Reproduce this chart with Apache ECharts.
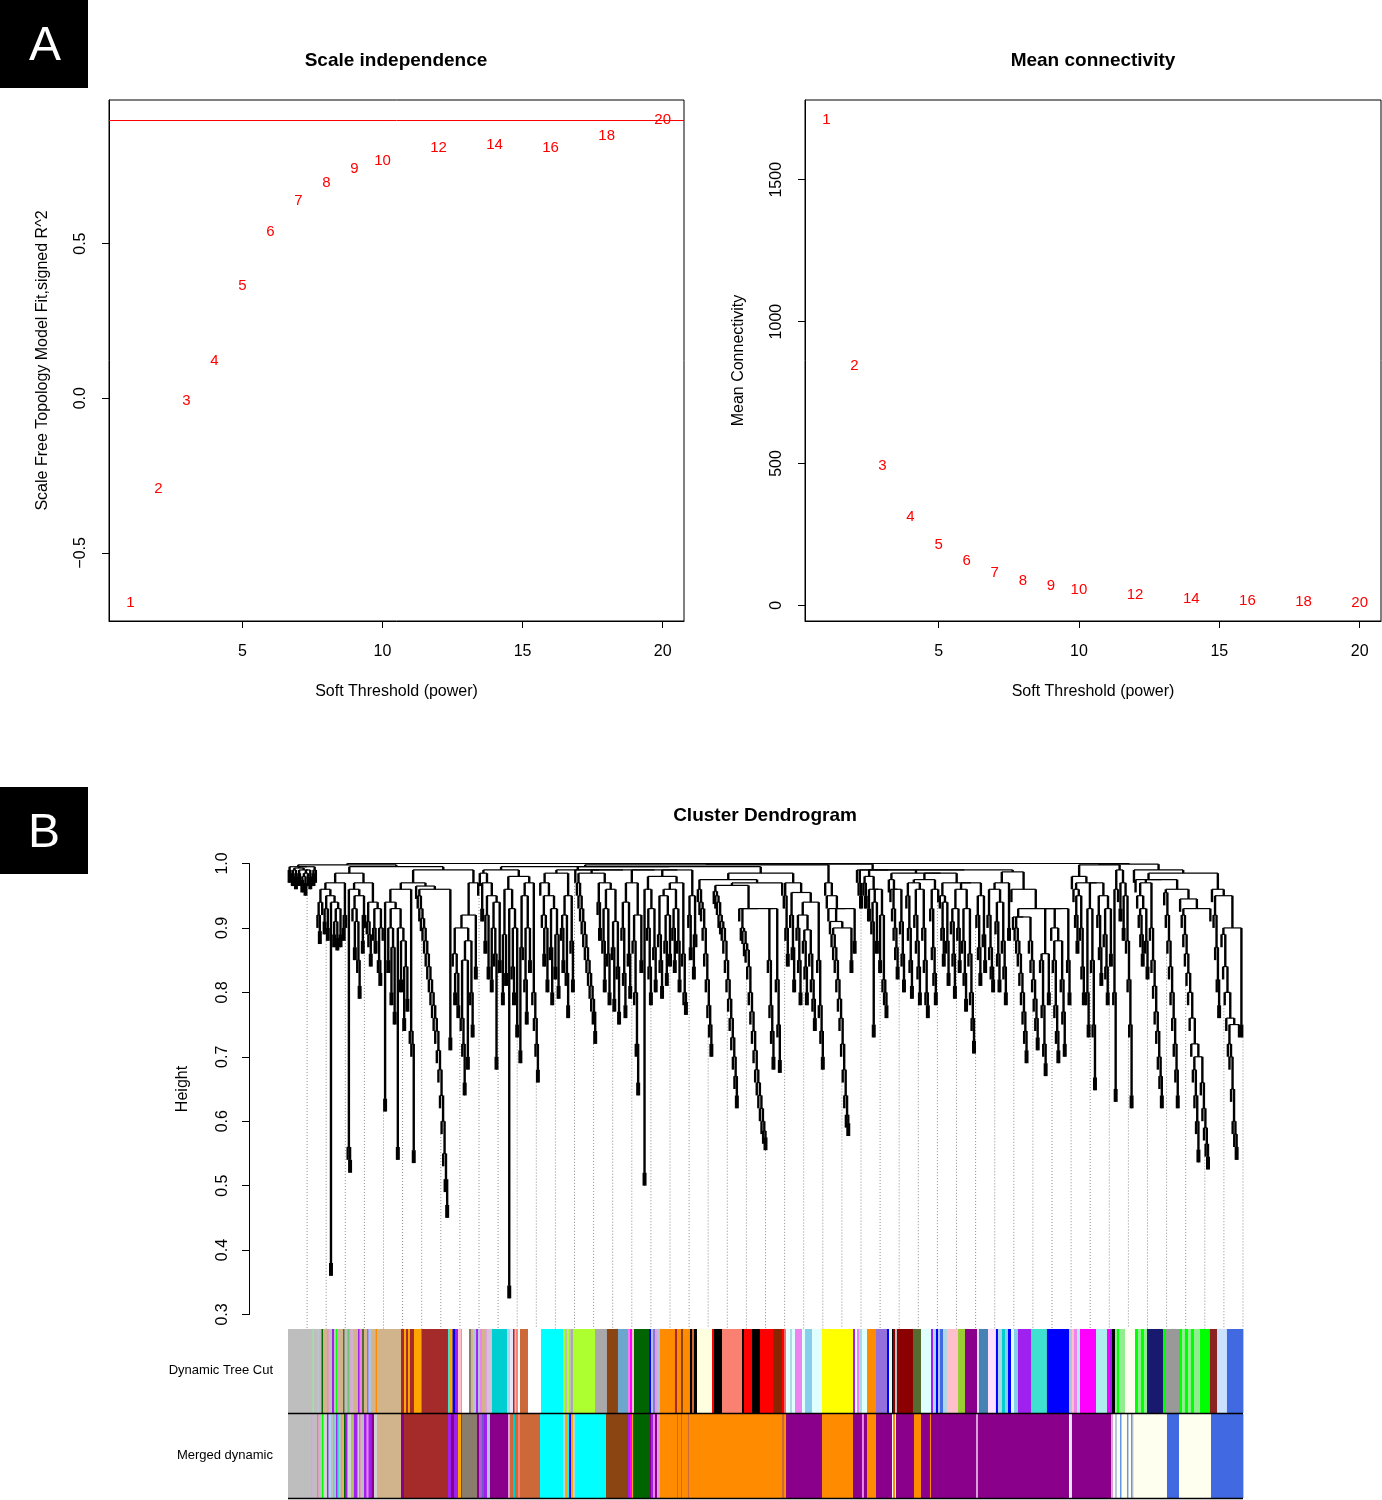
<!DOCTYPE html>
<html>
<head>
<meta charset="utf-8">
<title>Soft threshold and cluster dendrogram</title>
<script src="https://cdn.jsdelivr.net/npm/echarts@6/dist/echarts.min.js"></script>
<style>
html, body { margin: 0; padding: 0; background: #fff; }
#chart { width: 1382px; height: 1500px; }
</style>
</head>
<body>
<div id="chart"></div>
<script>
'use strict';

const FONT = '"Liberation Sans", Arial, Helvetica, sans-serif';

// ---- panel A: pick soft threshold ----
const powers = [1, 2, 3, 4, 5, 6, 7, 8, 9, 10, 12, 14, 16, 18, 20];
const scaleFitR2 = [-0.658, -0.289, -0.006, 0.124, 0.367, 0.542, 0.641, 0.699, 0.745, 0.770, 0.812, 0.822, 0.812, 0.851, 0.902];
const meanConnectivity = [1713, 846, 494, 316, 217, 159, 118, 91, 73, 58, 39, 28, 21, 16, 13];
const r2Cut = 0.9;
const powerTicks = [5, 10, 15, 20];
const fitTicks = [-0.5, 0, 0.5];
const connTicks = [0, 500, 1000, 1500];

// ---- panel B: dendrogram, merge height between neighbouring leaves (leaf order) ----
const mergeSec1 = [0.99, 0.995, 0.985, 0.99, 0.98, 0.993, 0.985, 0.99, 0.975, 0.98, 0.97, 0.985, 0.99, 0.98, 0.995, 0.985, 0.99, 0.998,
  0.92, 0.895, 0.94, 0.96, 0.91, 0.93, 0.90, 0.95, 0.38, 0.94, 0.89, 0.91, 0.885, 0.93, 0.89, 0.97, 0.90, 0.92, 0.985,
  0.56, 0.54, 0.96, 0.93, 0.87, 0.91, 0.85, 0.81, 0.95, 0.88, 0.92, 0.97, 0.91, 0.89, 0.86, 0.94, 0.90, 0.88, 0.93, 0.85, 0.83, 0.90, 0.995];
const mergeSec2 = [0.635, 0.94, 0.85, 0.90, 0.80, 0.87, 0.77, 0.93, 0.56, 0.90, 0.82, 0.88, 0.76, 0.84, 0.79, 0.96, 0.74, 0.72, 0.555, 0.97,
  0.965, 0.95, 0.93, 0.915, 0.90, 0.88, 0.86, 0.84, 0.82, 0.80, 0.78, 0.76, 0.74, 0.71, 0.68, 0.64, 0.60, 0.55, 0.51, 0.47,
  0.96, 0.73, 0.99, 0.86, 0.80, 0.83, 0.78, 0.90, 0.76, 0.72, 0.66, 0.85, 0.70, 0.88, 0.80, 0.75, 0.92, 0.84, 0.97, 1.0];
const mergeSec3 = [0.985, 0.93, 0.97, 0.88, 0.92, 0.84, 0.95, 0.82, 0.90, 0.86, 0.70, 0.94, 0.85, 0.99, 0.80, 0.89, 0.83, 0.96, 0.345,
  0.93, 0.84, 0.80, 0.90, 0.75, 0.98, 0.71, 0.87, 0.95, 0.82, 0.77, 0.90, 0.85, 0.97, 0.80, 0.76, 0.72, 0.68, 0.995,
  0.97, 0.92, 0.86, 0.90, 0.82, 0.95, 0.87, 0.80, 0.93, 0.84, 0.89, 0.81, 0.985, 0.90, 0.85, 0.92, 0.83, 0.78, 0.95, 0.88, 0.82, 0.99];
const mergeSec4 = [0.99, 0.97, 0.95, 0.93, 0.91, 0.89, 0.87, 0.85, 0.83, 0.81, 0.79, 0.77, 0.74, 0.985, 0.94, 0.90,
  0.97, 0.88, 0.82, 0.93, 0.86, 0.80, 0.96, 0.87, 0.79, 0.91, 0.84, 0.77, 0.99, 0.90, 0.83, 0.78, 0.94, 0.86, 0.81,
  0.97, 0.88, 0.80, 0.72, 0.66, 0.92, 0.85, 0.99, 0.52,
  0.96, 0.90, 0.84, 0.80, 0.93, 0.87, 0.82, 0.98, 0.89, 0.85, 0.81, 0.95, 0.88, 0.83, 0.92, 0.86];
const mergeSec5 = [0.96, 0.90, 0.85, 0.93, 0.88, 0.82, 0.97, 0.86, 0.80, 0.785, 0.99, 0.92, 0.87, 0.95, 0.84, 0.89, 0.995,
  0.96, 0.94, 0.93, 0.90, 0.86, 0.82, 0.78, 0.75, 0.72, 0.975,
  0.957, 0.95, 0.94, 0.92, 0.91, 0.90, 0.88, 0.85, 0.82, 0.79, 0.76, 0.73, 0.70, 0.67, 0.64, 0.966, 0.93, 0.90,
  0.895, 0.876, 0.866, 0.84, 0.80, 0.77, 0.74, 0.71, 0.68, 0.66, 0.64, 0.62, 0.60, 0.585, 0.575];
const mergeSec6 = [0.93, 0.85, 0.78, 0.74, 0.70, 0.93, 0.82, 0.75, 0.695, 0.97,
  0.985, 0.95, 0.90, 0.86, 0.97, 0.92, 0.87, 0.82, 0.955, 0.90, 0.85, 0.80, 0.92, 0.88, 0.84, 0.80, 0.897, 0.86, 0.82, 0.79, 0.76,
  0.94, 0.85, 0.78, 0.74, 0.70, 0.998,
  0.97, 0.95, 0.93, 0.91, 0.89, 0.87, 0.85, 0.82, 0.79, 0.76, 0.72, 0.68, 0.64, 0.61, 0.597,
  0.90, 0.85, 0.93, 0.88, 0.999, 0.99, 0.97, 0.95];
const mergeSec7 = [0.99, 0.97, 0.95, 0.98, 0.93, 0.96, 0.91, 0.75, 0.94, 0.88, 0.96, 0.85, 0.92, 0.82, 0.80, 0.78, 0.99,
  0.975, 0.96, 0.93, 0.90, 0.87, 0.84, 0.96, 0.91, 0.86, 0.82, 0.985, 0.95, 0.90, 0.85, 0.81, 0.97, 0.92, 0.88, 0.84, 0.80,
  0.96, 0.90, 0.85, 0.80, 0.78, 0.975, 0.93, 0.87, 0.83, 0.80, 0.96,
  0.985, 0.95, 0.90, 0.86, 0.94, 0.88, 0.83, 0.97, 0.91, 0.86, 0.81, 0.93];
const mergeSec8 = [0.90, 0.85, 0.96, 0.88, 0.83, 0.79, 0.93, 0.86, 0.80, 0.76, 0.725,
  0.97, 0.92, 0.87, 0.83, 0.95, 0.89, 0.85, 0.99, 0.92, 0.87, 0.84, 0.82,
  0.96, 0.91, 0.86, 0.82, 0.94, 0.88, 0.84, 0.80, 0.97, 0.90, 0.987,
  0.96, 0.917, 0.90, 0.88, 0.86, 0.83, 0.80, 0.77, 0.74, 0.71, 0.917, 0.88, 0.85, 0.82, 0.79, 0.76, 0.73, 0.93, 0.85, 0.78, 0.72,
  0.69, 0.86, 0.80, 0.93, 0.90];
const mergeSec9 = [0.85, 0.78, 0.74, 0.71, 0.88, 0.82, 0.77, 0.72, 0.93, 0.85, 0.80, 1.0,
  0.98, 0.96, 0.92, 0.88, 0.95, 0.90, 0.84, 0.80, 0.97, 0.80, 0.75, 0.93, 0.85, 0.75, 0.668,
  0.97, 0.92, 0.87, 0.83, 0.95, 0.89, 0.84, 0.80, 0.93, 0.86, 0.998, 0.80, 0.65,
  0.96, 0.99, 0.93, 0.97, 0.90, 0.95, 0.88, 0.82, 0.75, 0.64, 0.999,
  0.99, 0.975, 0.95, 0.92, 0.89, 0.86, 0.93, 0.88, 0.84];
const mergeSec10 = [0.97, 0.90, 0.85, 0.81, 0.77, 0.74, 0.70, 0.67, 0.64,
  0.975, 0.955, 0.92, 0.88, 0.84, 0.80, 0.76, 0.72, 0.68, 0.64,
  0.96, 0.945, 0.92, 0.89, 0.86, 0.83, 0.80, 0.76, 0.72, 0.68, 0.64, 0.60, 0.556,
  0.70, 0.66, 0.62, 0.59, 0.565, 0.545, 0.93, 0.985,
  0.96, 0.92, 0.87, 0.82, 0.78, 0.95, 0.89, 0.84, 0.80, 0.76, 0.72, 0.70, 0.65, 0.60, 0.58, 0.56, 0.75, 0.90, 0.75];
const heightTicks = [0.3, 0.4, 0.5, 0.6, 0.7, 0.8, 0.9, 1.0];
const leafHang = 0.02;
const guideCount = 50;

// ---- module colours along the leaf order: [end (% of genes), module] ----
const dynamicTreeCut = [
  [2.57,'grey'],[2.67,'lightgreen'],[3.04,'grey'],[3.19,'lightsteelblue'],[3.51,'grey'],[3.66,'darkgreen'],[4.14,'tan'],[4.24,'hotpink'],
  [4.61,'grey'],[4.82,'purple'],[5.03,'grey'],[5.13,'green'],[5.29,'violet'],[5.76,'tan'],[5.92,'darkolivegreen'],[6.23,'grey'],
  [6.34,'green'],[6.54,'violet'],[6.75,'grey'],[6.91,'plum'],[7.33,'tan'],[7.49,'purple'],[7.75,'violet'],[7.96,'darkolivegreen'],
  [8.27,'tan'],[8.43,'lightslateblue'],[8.69,'lightsteelblue'],[9.16,'tan'],[9.32,'darkorange'],[11.83,'tan'],[12.15,'brown'],
  [12.36,'orange'],[12.57,'brown'],[12.77,'orange'],[13.19,'brown'],[13.98,'orange'],[16.75,'brown'],[16.96,'turquoise'],
  [17.23,'orange'],[17.49,'blue'],[17.80,'purple'],[18.17,'pink'],[18.22,'sienna3'],[18.95,'white'],[19.16,'bisque4'],[19.37,'tan'],
  [19.69,'lightsteelblue'],[19.90,'purple'],[20.10,'lightsteelblue'],[20.31,'violet'],[20.63,'tan'],[20.84,'plum'],[21.36,'thistle'],
  [22.93,'darkturquoise'],[23.25,'lightblue'],[23.56,'lavender'],[23.72,'red'],[23.87,'lightblue'],[24.08,'salmon'],[24.29,'lightcyan'],
  [25.13,'sienna3'],[26.49,'white'],[28.80,'cyan'],[29.01,'greenyellow'],[29.21,'grey'],[29.42,'greenyellow'],[29.63,'grey'],
  [29.84,'darkgrey'],[32.15,'greenyellow'],[33.40,'darkgrey'],[34.55,'saddlebrown'],[35.60,'skyblue3'],[35.81,'violet'],
  [36.02,'magenta'],[36.23,'pink'],[37.80,'darkgreen'],[38.01,'blue'],[38.22,'lightsteelblue'],[38.43,'mediumpurple'],[38.64,'plum'],
  [38.95,'lightsteelblue'],[40.52,'darkorange'],[40.73,'brown'],[41.15,'darkorange'],[41.36,'saddlebrown'],[42.09,'darkorange'],
  [42.30,'black'],[42.51,'sienna3'],[42.83,'black'],[44.40,'lightyellow'],[44.61,'red'],[45.45,'black'],[47.54,'salmon'],
  [47.75,'black'],[48.59,'red'],[49.42,'black'],[50.79,'red'],[51.73,'orangered4'],[51.94,'red'],[52.15,'indianred1'],
  [52.57,'lightcyan'],[52.77,'lightblue'],[53.09,'lightcyan'],[53.82,'violet'],[54.14,'lightcyan'],[54.87,'skyblue'],[55.92,'lightcyan'],
  [59.16,'yellow'],[59.37,'purple'],[59.58,'lightcyan'],[59.79,'violet'],[60.10,'lightblue'],[60.63,'lightcyan'],[61.57,'darkorange'],
  [62.72,'mediumpurple'],[62.93,'blue'],[63.25,'lightcyan'],[63.35,'black'],[63.56,'darkred'],[63.77,'grey'],[65.44,'darkred'],
  [66.28,'darkolivegreen'],[67.33,'lightcyan'],[67.54,'purple'],[67.85,'lightblue'],[68.06,'blue'],[68.27,'lightsteelblue'],
  [68.59,'royalblue'],[69.00,'lightblue'],[70.16,'pink'],[70.89,'yellowgreen'],[72.15,'darkmagenta'],[72.35,'lavender'],
  [73.30,'steelblue'],[74.13,'thistle1'],[74.34,'blue'],[74.76,'lightblue'],[75.08,'darkturquoise'],[75.39,'skyblue'],[75.71,'blue'],
  [76.02,'lightcyan'],[76.44,'skyblue'],[77.80,'purple'],[79.47,'turquoise'],[81.78,'blue'],[82.09,'lightsteelblue'],[82.30,'pink'],
  [82.62,'violet'],[82.93,'paleturquoise'],[84.61,'magenta'],[85.76,'paleturquoise'],[86.07,'magenta'],[86.28,'purple'],
  [86.60,'black'],[86.80,'lightgreen'],[87.01,'green'],[87.64,'lightgreen'],[88.69,'ivory'],[89.00,'green'],[89.32,'lightgreen'],
  [89.63,'green'],[89.95,'lightgreen'],[91.62,'midnightblue'],[91.94,'green'],[93.30,'grey60'],[93.61,'green'],[93.92,'lightgreen'],
  [94.24,'green'],[94.55,'lightgreen'],[94.87,'green'],[95.50,'lightgreen'],[96.54,'green'],[97.28,'brown4'],[98.32,'lightsteelblue1'],
  [100,'royalblue']
];
const mergedDynamic = [
  [2.41,'grey'],[2.57,'plum'],[3.04,'grey'],[3.19,'hotpink'],[3.56,'grey'],[3.72,'green'],[4.08,'lightgrey'],[4.24,'purple'],
  [4.50,'lightblue'],[4.71,'grey'],[4.87,'turquoise'],[5.03,'grey'],[5.18,'purple'],[5.34,'turquoise'],[5.55,'grey'],[5.71,'orange'],
  [5.86,'grey'],[6.02,'darkgreen'],[6.23,'purple'],[6.60,'lightgrey'],[6.75,'turquoise'],[6.91,'orange'],[7.28,'purple'],
  [7.43,'lightgrey'],[7.59,'hotpink'],[7.96,'grey'],[8.22,'purple'],[8.43,'violet'],[8.74,'purple'],[9.01,'darkmagenta'],
  [9.32,'lightgrey'],[11.83,'tan'],[12.15,'darkmagenta'],[16.75,'brown'],[17.07,'purple'],[17.38,'darkmagenta'],[17.80,'purple'],
  [18.12,'orange'],[18.22,'brown'],[19.79,'bisque4'],[20.00,'darkmagenta'],[20.31,'mediumorchid'],[20.52,'slateblue'],[20.84,'purple'],
  [21.15,'lightsteelblue'],[23.04,'darkmagenta'],[23.25,'plum'],[23.56,'sienna3'],[23.77,'darkturquoise'],[24.08,'sienna3'],
  [24.29,'salmon'],[26.39,'sienna3'],[28.80,'cyan'],[29.01,'lightblue'],[29.21,'orange'],[29.42,'cyan'],[29.63,'blue'],[29.84,'orange'],
  [30.05,'lightblue'],[33.30,'cyan'],[35.60,'saddlebrown'],[35.81,'purple'],[36.02,'magenta'],[36.13,'orange'],[37.80,'darkgreen'],
  [38.01,'darkmagenta'],[38.22,'purple'],[38.43,'violet'],[38.64,'darkmagenta'],[38.95,'plum'],[40.73,'darkorange'],[40.84,'sienna3'],
  [41.15,'darkorange'],[41.26,'chocolate'],[41.88,'darkorange'],[41.99,'sienna3'],[51.73,'darkorange'],[51.94,'sienna3'],
  [52.15,'darkorange'],[55.92,'darkmagenta'],[59.16,'darkorange'],[60.10,'darkmagenta'],[60.31,'violet'],[60.63,'darkmagenta'],
  [61.57,'darkorange'],[63.25,'darkmagenta'],[63.35,'white'],[63.56,'darkorange'],[63.66,'white'],[65.55,'darkmagenta'],
  [66.28,'darkorange'],[67.22,'darkmagenta'],[67.33,'darkorange'],[72.04,'darkmagenta'],[72.25,'plum'],[81.78,'darkmagenta'],
  [81.88,'white'],[82.09,'lavender'],[86.18,'darkmagenta'],[86.39,'plum'],[86.60,'white'],[86.80,'lightsteelblue'],[87.12,'ivory'],
  [87.28,'cornflowerblue'],[87.85,'ivory'],[88.01,'cornflowerblue'],[88.27,'ivory'],[88.43,'cornflowerblue'],[88.58,'peachpuff'],
  [92.04,'ivory'],[93.30,'royalblue'],[96.65,'ivory'],[100,'royalblue']
];

// R colour names -> hex
const moduleHex = {
  grey:'#BEBEBE', lightgrey:'#D3D3D3', lightgreen:'#90EE90', lightsteelblue:'#B0C4DE', darkgreen:'#006400', tan:'#D2B48C',
  hotpink:'#FF69B4', purple:'#A020F0', green:'#00FF00', violet:'#EE82EE', darkolivegreen:'#556B2F', plum:'#DDA0DD',
  lightslateblue:'#8470FF', darkorange:'#FF8C00', brown:'#A52A2A', orange:'#FFA500', turquoise:'#40E0D0', blue:'#0000FF',
  pink:'#FFC0CB', sienna3:'#CD6839', white:'#FFFFFF', bisque4:'#8B7D6B', thistle:'#D8BFD8', darkturquoise:'#00CED1',
  lightblue:'#ADD8E6', lavender:'#E6E6FA', red:'#FF0000', salmon:'#FA8072', lightcyan:'#E0FFFF', cyan:'#00FFFF',
  greenyellow:'#ADFF2F', darkgrey:'#A9A9A9', saddlebrown:'#8B4513', skyblue3:'#6CA6CD', magenta:'#FF00FF',
  mediumpurple:'#9370DB', black:'#000000', lightyellow:'#FFFFE0', orangered4:'#8B2500', indianred1:'#FF6A6A',
  skyblue:'#87CEEB', yellow:'#FFFF00', darkred:'#8B0000', yellowgreen:'#9ACD32', darkmagenta:'#8B008B', steelblue:'#4682B4',
  thistle1:'#FFE1FF', royalblue:'#4169E1', paleturquoise:'#AFEEEE', ivory:'#FFFFF0', midnightblue:'#191970', grey60:'#999999',
  brown4:'#8B2323', lightsteelblue1:'#CAE1FF', mediumorchid:'#BA55D3', slateblue:'#6A5ACD', chocolate:'#D2691E',
  cornflowerblue:'#6495ED', peachpuff:'#FFDAB9'
};

// R's default axis range: data range padded by 4% each side
let rExtent = function(vals){
  let lo = Math.min.apply(null, vals), hi = Math.max.apply(null, vals);
  let pad = (hi - lo) * 0.04;
  return [lo - pad, hi + pad];
};

// ---- build the dendrogram from neighbour merge heights ----
let merges = [].concat(mergeSec1, mergeSec2, mergeSec3, mergeSec4, mergeSec5,
                       mergeSec6, mergeSec7, mergeSec8, mergeSec9, mergeSec10);
let nLeaves = merges.length + 1;
let leafX = function(i){ return (i + 0.5) / nLeaves * 100; };
let leafBottom = function(i){
  let a = i > 0 ? merges[i - 1] : merges[0];
  let b = i < nLeaves - 1 ? merges[i] : merges[nLeaves - 2];
  return Math.min(a, b) - leafHang;
};
let treeNodes = [];
let build = function(lo, hi){
  if (lo === hi) return { x: leafX(lo), h: leafBottom(lo) };
  let k = lo;
  for (let j = lo; j < hi; j++) if (merges[j] > merges[k]) k = j;
  let left = build(lo, k), right = build(k + 1, hi);
  treeNodes.push([left.x, left.h, right.x, right.h, merges[k]]);
  return { x: (left.x + right.x) / 2, h: merges[k] };
};
build(0, nLeaves - 1);

let guides = [];
for (let g = 1; g <= guideCount; g++) {
  let pos = g / guideCount * 100;
  let leaf = Math.min(nLeaves - 1, Math.floor(pos / 100 * nLeaves));
  guides.push([pos, leafBottom(leaf)]);
}

let toSegments = function(list){
  let out = [], start = 0;
  list.forEach(function(item){
    out.push({ value: [start, item[0]], color: moduleHex[item[1]] || '#BEBEBE' });
    start = item[0];
  });
  return out;
};
let dynamicSegs = toSegments(dynamicTreeCut);
let mergedSegs = toSegments(mergedDynamic);

// ---- shared styles ----
let axisText = { color: '#000', fontSize: 16, fontFamily: FONT };
let blackLine = { color: '#000', width: 1 };

let valueAxis = function(opt){
  return Object.assign({
    type: 'value',
    axisLine: { show: true, onZero: false, lineStyle: blackLine },
    splitLine: { show: false },
    nameLocation: 'middle',
    nameTextStyle: axisText
  }, opt);
};
let ticksAt = function(vals){
  return { show: true, length: 7, inside: false, lineStyle: blackLine, customValues: vals };
};
let labelsAt = function(vals, extra){
  return Object.assign({ margin: 23, customValues: vals, formatter: function(v){ return String(v); } }, axisText, extra || {});
};

let fitExt = rExtent(scaleFitR2);
let connExt = rExtent(meanConnectivity);
let powExt = rExtent(powers);

let labelSeries = function(idx, vals){
  return {
    type: 'custom',
    xAxisIndex: idx, yAxisIndex: idx,
    data: powers.map(function(p, i){ return [p, vals[i]]; }),
    renderItem: function(params, api){
      let pt = api.coord([api.value(0), api.value(1)]);
      return {
        type: 'text', x: pt[0], y: pt[1] + 1,
        style: { text: String(api.value(0)), fill: '#FF0000', fontSize: 15, fontFamily: FONT,
                 align: 'center', verticalAlign: 'middle' }
      };
    }
  };
};

let colorRowSeries = function(idx, segs){
  return {
    type: 'custom',
    xAxisIndex: idx, yAxisIndex: idx,
    data: segs.map(function(s){ return s.value; }),
    renderItem: function(params, api){
      let p0 = api.coord([api.value(0), 1]);
      let p1 = api.coord([api.value(1), 0]);
      return {
        type: 'rect',
        shape: { x: p0[0], y: p0[1], width: p1[0] - p0[0] + 0.4, height: p1[1] - p0[1] },
        style: { fill: segs[params.dataIndex].color }
      };
    }
  };
};

let gridBox = { show: true, borderColor: '#000', borderWidth: 1, backgroundColor: 'transparent', outerBoundsMode: 'none' };
let plainGrid = { show: false, outerBoundsMode: 'none' };

let option = {
  animation: false,
  backgroundColor: '#fff',
  grid: [
    Object.assign({ left: 109, top: 100, width: 575, height: 521 }, gridBox),
    Object.assign({ left: 805, top: 100, width: 576, height: 521 }, gridBox),
    Object.assign({ left: 288, top: 863.5, width: 955, height: 451 }, plainGrid),
    Object.assign({ left: 288, top: 1329, width: 955, height: 84 }, plainGrid),
    Object.assign({ left: 288, top: 1414, width: 955, height: 84 }, plainGrid)
  ],
  xAxis: [
    valueAxis({ gridIndex: 0, min: powExt[0], max: powExt[1], name: 'Soft Threshold (power)', nameGap: 63,
      axisTick: ticksAt(powerTicks), axisLabel: labelsAt(powerTicks) }),
    valueAxis({ gridIndex: 1, min: powExt[0], max: powExt[1], name: 'Soft Threshold (power)', nameGap: 63,
      axisTick: ticksAt(powerTicks), axisLabel: labelsAt(powerTicks) }),
    { type: 'value', gridIndex: 2, min: 0, max: 100, show: false },
    { type: 'value', gridIndex: 3, min: 0, max: 100, show: false },
    { type: 'value', gridIndex: 4, min: 0, max: 100, show: false }
  ],
  yAxis: [
    valueAxis({ gridIndex: 0, min: fitExt[0], max: fitExt[1], name: 'Scale Free Topology Model Fit,signed R^2', nameGap: 58,
      axisTick: ticksAt(fitTicks),
      axisLabel: labelsAt(fitTicks, { margin: 20, rotate: 90,
        formatter: function(v){ return (v < 0 ? '\u2212' : '') + Math.abs(v).toFixed(1); } }) }),
    valueAxis({ gridIndex: 1, min: connExt[0], max: connExt[1], name: 'Mean Connectivity', nameGap: 58,
      axisTick: ticksAt(connTicks), axisLabel: labelsAt(connTicks, { margin: 20, rotate: 90 }) }),
    valueAxis({ gridIndex: 2, min: 0.3, max: 1.0, offset: 39, name: 'Height', nameGap: 58,
      axisTick: ticksAt(heightTicks),
      axisLabel: labelsAt(heightTicks, { margin: 18, rotate: 90, formatter: function(v){ return v.toFixed(1); } }) }),
    { type: 'value', gridIndex: 3, min: 0, max: 1, show: false },
    { type: 'value', gridIndex: 4, min: 0, max: 1, show: false }
  ],
  series: [
    Object.assign(labelSeries(0, scaleFitR2), {
      markLine: { silent: true, symbol: 'none', label: { show: false },
        lineStyle: { color: '#FF0000', type: 'solid', width: 1 }, data: [{ yAxis: r2Cut }] }
    }),
    labelSeries(1, meanConnectivity),
    {
      // dotted guide lines from the tree down to the colour rows
      type: 'custom', xAxisIndex: 2, yAxisIndex: 2, clip: false,
      data: guides,
      renderItem: function(params, api){
        let top = api.coord([api.value(0), api.value(1)]);
        let bot = api.coord([api.value(0), 0.3]);
        return { type: 'line', shape: { x1: top[0], y1: top[1], x2: bot[0], y2: bot[1] + 14 },
                 style: { stroke: '#8c8c8c', lineWidth: 1, lineDash: [1, 2] } };
      }
    },
    {
      // each merge: two vertical stems (heavier, as the dense R plot reads) and a thin crossbar
      type: 'custom', xAxisIndex: 2, yAxisIndex: 2, clip: false,
      data: treeNodes,
      renderItem: function(params, api){
        let a = api.coord([api.value(0), api.value(1)]);
        let b = api.coord([api.value(0), api.value(4)]);
        let c = api.coord([api.value(2), api.value(4)]);
        let d = api.coord([api.value(2), api.value(3)]);
        let stem = { stroke: '#000', lineWidth: 2.4 };
        return {
          type: 'group',
          children: [
            { type: 'line', shape: { x1: a[0], y1: a[1], x2: b[0], y2: b[1] }, style: stem },
            { type: 'line', shape: { x1: d[0], y1: d[1], x2: c[0], y2: c[1] }, style: stem },
            { type: 'line', shape: { x1: b[0], y1: b[1], x2: c[0], y2: c[1] }, style: { stroke: '#000', lineWidth: 1.2 } }
          ]
        };
      }
    },
    colorRowSeries(3, dynamicSegs),
    colorRowSeries(4, mergedSegs)
  ],
  graphic: [
    { type: 'rect', shape: { x: 0, y: 0, width: 88, height: 88 }, style: { fill: '#000' } },
    { type: 'text', x: 45, y: 47, style: { text: 'A', fill: '#fff', fontSize: 48, fontFamily: FONT, align: 'center', verticalAlign: 'middle' } },
    { type: 'rect', shape: { x: 0, y: 787, width: 88, height: 87 }, style: { fill: '#000' } },
    { type: 'text', x: 44, y: 834, style: { text: 'B', fill: '#fff', fontSize: 48, fontFamily: FONT, align: 'center', verticalAlign: 'middle' } },
    { type: 'text', x: 396, y: 61, style: { text: 'Scale independence', fill: '#000', fontSize: 19, fontWeight: 'bold', fontFamily: FONT, align: 'center', verticalAlign: 'middle' } },
    { type: 'text', x: 1093, y: 61, style: { text: 'Mean connectivity', fill: '#000', fontSize: 19, fontWeight: 'bold', fontFamily: FONT, align: 'center', verticalAlign: 'middle' } },
    { type: 'text', x: 765, y: 816, style: { text: 'Cluster Dendrogram', fill: '#000', fontSize: 19, fontWeight: 'bold', fontFamily: FONT, align: 'center', verticalAlign: 'middle' } },
    { type: 'text', x: 273, y: 1370, style: { text: 'Dynamic Tree Cut', fill: '#000', fontSize: 13, fontFamily: FONT, align: 'right', verticalAlign: 'middle' } },
    { type: 'text', x: 273, y: 1455, style: { text: 'Merged dynamic', fill: '#000', fontSize: 13, fontFamily: FONT, align: 'right', verticalAlign: 'middle' } },
    { type: 'line', z: 100, shape: { x1: 288, y1: 1413.5, x2: 1243, y2: 1413.5 }, style: { stroke: '#000', lineWidth: 1.5 } },
    { type: 'line', z: 100, shape: { x1: 288, y1: 1498.5, x2: 1243, y2: 1498.5 }, style: { stroke: '#000', lineWidth: 1.5 } }
  ]
};

let myChart = echarts.init(document.getElementById('chart'), null, { renderer: 'canvas' });
myChart.setOption(option);
</script>
</body>
</html>
